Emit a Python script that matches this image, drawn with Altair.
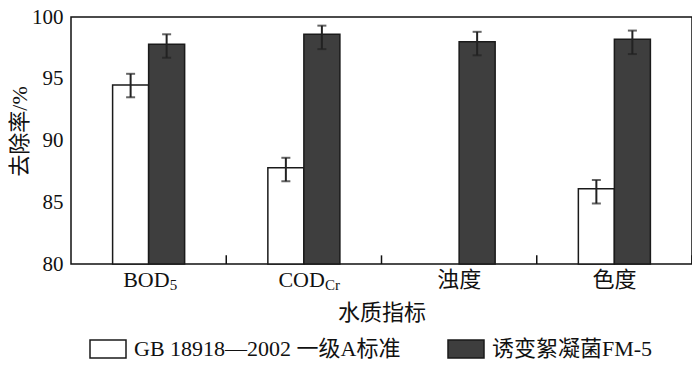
import altair as alt
import pandas as pd

# ---- data ----
categories = ["BOD5", "CODCr", "浊度", "色度"]
label_main = ["BOD", "COD", "浊度", "色度"]
label_sub = ["5", "Cr", "", ""]
series = ["GB 18918—2002 一级A标准", "诱变絮凝菌FM-5"]

std_val = [94.5, 87.8, None, 86.1]
std_lo = [93.5, 86.7, None, 84.9]
std_hi = [95.4, 88.6, None, 86.8]

fm_val = [97.8, 98.6, 98.0, 98.2]
fm_lo = [96.7, 97.4, 96.9, 97.0]
fm_hi = [98.6, 99.3, 98.8, 98.9]

rows = []
for i, c in enumerate(categories):
    if std_val[i] is not None:
        rows.append(dict(cat=c, s=series[0], v=std_val[i], lo=std_lo[i], hi=std_hi[i]))
    rows.append(dict(cat=c, s=series[1], v=fm_val[i], lo=fm_lo[i], hi=fm_hi[i]))
df = pd.DataFrame(rows)
lab = pd.DataFrame(dict(cat=categories, main=label_main, sub=label_sub))

FONT = "Liberation Serif, Noto Sans CJK SC"
W, H = 621, 247
PI = 0.536  # inner padding of category bands
STEP = W / len(categories)

xs = alt.Scale(domain=categories, paddingInner=PI, paddingOuter=PI / 2)
xo = alt.Scale(domain=series, paddingInner=0, paddingOuter=0)
ys = alt.Scale(domain=[80, 100], nice=False, zero=False)

X = alt.X("cat:N", scale=xs, sort=categories,
          axis=alt.Axis(title="水质指标", labels=False, ticks=False, domain=False,
                        titleFont=FONT, titleFontSize=22, titleFontWeight="normal",
                        titlePadding=38, titleColor="#111"))
Y = alt.Y("v:Q", scale=ys,
          axis=alt.Axis(title="去除率/%", values=[80, 85, 90, 95, 100], ticks=False,
                        grid=False, domain=False, labelFont=FONT, labelFontSize=21,
                        labelColor="#111", labelPadding=8, titleFont=FONT,
                        titleFontSize=22, titleFontWeight="normal", titlePadding=0,
                        titleY=114, titleColor="#111"))
XO = alt.XOffset("s:N", scale=xo, sort=series)

bars = alt.Chart(df).mark_bar(stroke="#1a1a1a", strokeWidth=1.5, opacity=1).encode(
    x=X, y=Y, y2=alt.datum(80), xOffset=XO,
    color=alt.Color("s:N", sort=series,
                    scale=alt.Scale(domain=series, range=["#ffffff", "#3e3e3e"]),
                    legend=alt.Legend(title=None, orient="none", direction="horizontal",
                                      legendX=18, legendY=313, padding=0,
                                      symbolType="M-1,-0.5H1V0.5H-1Z", symbolSize=1296,
                                      symbolStrokeColor="#1a1a1a", symbolStrokeWidth=1.5,
                                      symbolOpacity=1, labelFont=FONT, labelFontSize=22,
                                      labelColor="#111", labelOffset=7, columnPadding=44,
                                      labelLimit=400)),
)

err = alt.Chart(df).mark_rule(color="#222", strokeWidth=2).encode(
    x=X, xOffset=XO, y=alt.Y("lo:Q", scale=ys), y2="hi:Q")
cap_lo = alt.Chart(df).mark_tick(color="#222", size=9, thickness=2).encode(
    x=X, xOffset=XO, y=alt.Y("lo:Q", scale=ys))
cap_hi = alt.Chart(df).mark_tick(color="#222", size=9, thickness=2).encode(
    x=X, xOffset=XO, y=alt.Y("hi:Q", scale=ys))

# inner ticks at the boundaries between categories
ticks = alt.Chart(lab).mark_rule(color="#111", strokeWidth=1.5,
                                 xOffset=STEP * PI / 2).encode(
    x=alt.X("cat:N", scale=xs, sort=categories, bandPosition=1),
    y=alt.datum(80), y2=alt.datum(80.7))

txt_plain = alt.Chart(lab).transform_filter("datum.sub == ''").mark_text(
    font=FONT, fontSize=22, color="#111", baseline="alphabetic", align="center", dy=23
).encode(x=alt.X("cat:N", scale=xs, sort=categories), y=alt.datum(80), text="main:N")
txt_main = alt.Chart(lab).transform_filter("datum.sub != ''").mark_text(
    font=FONT, fontSize=22, color="#111", baseline="alphabetic", align="right", dx=21, dy=23
).encode(x=alt.X("cat:N", scale=xs, sort=categories), y=alt.datum(80), text="main:N")
txt_sub = alt.Chart(lab).transform_filter("datum.sub != ''").mark_text(
    font=FONT, fontSize=15, color="#111", baseline="alphabetic", align="left", dx=21, dy=26
).encode(x=alt.X("cat:N", scale=xs, sort=categories), y=alt.datum(80), text="sub:N")

chart = alt.layer(bars, err, cap_lo, cap_hi, ticks, txt_plain, txt_main, txt_sub).properties(
    width=W, height=H,
    autosize=alt.AutoSizeParams(type="none"),
    padding={"left": 63, "top": 9, "right": 0, "bottom": 96},
).configure(
    background="white",
    view=alt.ViewConfig(stroke="#111", strokeWidth=1.5),
)

chart.save("out.html", embed_options={"renderer": "svg", "actions": False})
